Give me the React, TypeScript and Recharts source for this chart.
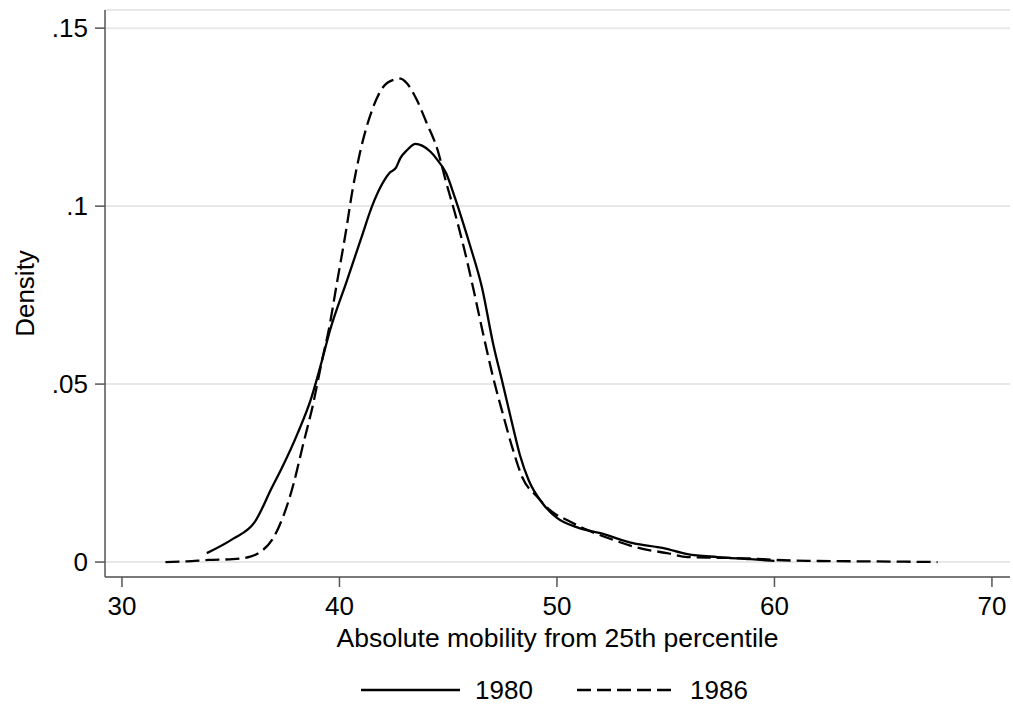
import React from 'react';
import { LineChart, Line, XAxis, YAxis, CartesianGrid, Legend } from 'recharts';

// kernel density estimates
const x1980 = [33.9, 35.1, 36.1, 36.9, 37.35, 38.1, 38.7, 39.2, 39.56, 40.34, 41.0, 41.5, 41.9, 42.3, 42.6, 42.8, 43.1, 43.5, 43.8, 44.2, 44.5, 44.9, 45.3, 45.6, 46.0, 46.55, 47.06, 47.5, 47.98, 48.3, 48.7, 49.3, 50.0, 50.9, 52.0, 53.5, 54.9, 56.0, 57.4, 58.9, 60.0];
const y1980 = [0.0025, 0.0065, 0.0112, 0.021, 0.0264, 0.0365, 0.046, 0.0567, 0.065, 0.079, 0.091, 0.1, 0.1055, 0.1093, 0.1108, 0.1135, 0.1157, 0.1175, 0.117, 0.1152, 0.113, 0.1093, 0.1025, 0.0969, 0.089, 0.0772, 0.0615, 0.0503, 0.0379, 0.03, 0.023, 0.0168, 0.0124, 0.0098, 0.0081, 0.0053, 0.0039, 0.0022, 0.0014, 0.0008, 0.0003];

const x1986 = [32.0, 33.0, 34.0, 35.1, 35.9, 36.35, 36.9, 37.4, 37.9, 38.3, 38.8, 39.2, 39.5, 39.9, 40.3, 40.6, 40.94, 41.5, 42.0, 42.5, 42.8, 43.1, 43.56, 44.0, 44.5, 44.9, 45.4, 45.86, 46.14, 46.6, 47.06, 47.5, 47.98, 48.4, 49.1, 49.8, 50.46, 51.4, 52.6, 53.8, 55.06, 56.0, 57.4, 58.9, 60.0, 62.0, 64.0, 66.0, 67.5];
const y1986 = [0.0, 0.0002, 0.0006, 0.0008, 0.0015, 0.0028, 0.0062, 0.0126, 0.0222, 0.0323, 0.0447, 0.0567, 0.065, 0.079, 0.093, 0.1045, 0.1149, 0.127, 0.1334, 0.1355, 0.1358, 0.1345, 0.1298, 0.1235, 0.116, 0.1068, 0.096, 0.0848, 0.0772, 0.0643, 0.052, 0.0419, 0.0315, 0.0239, 0.0183, 0.014, 0.0118, 0.009, 0.0062, 0.0039, 0.0025, 0.0014, 0.0012, 0.001, 0.0006, 0.0003, 0.0002, 0.0001, 0.0];

const xTicks = [30, 40, 50, 60, 70];
const yTicks = [0, 0.05, 0.1, 0.15];

const data1980 = x1980.map((x, i) => ({ x, y: y1980[i] }));
const data1986 = x1986.map((x, i) => ({ x, y: y1986[i] }));

const FONT = '"Liberation Sans", Arial, Helvetica, sans-serif';
const AXIS = '#555';

const fmtY = (v: number) => (v === 0 ? '0' : String(v).replace(/^0/, ''));

function LegendBox() {
  return (
    <svg width={1013} height={52} style={{ display: 'block' }}>
      <line x1={361} x2={460} y1={33} y2={33} stroke="#000" strokeWidth={2.4} />
      <text x={475} y={42} fontSize={26} fontFamily={FONT} fill="#000">1980</text>
      <line x1={577} x2={677} y1={33} y2={33} stroke="#000" strokeWidth={2.4} strokeDasharray="14 6" />
      <text x={690} y={42} fontSize={26} fontFamily={FONT} fill="#000">1986</text>
    </svg>
  );
}

export default function App() {
  return (
    <div style={{ position: 'absolute', left: 0, top: 0, background: '#fff', fontFamily: FONT }}>
      <LineChart width={1013} height={709} margin={{ top: 10, right: 3, left: 0, bottom: 0 }}>
        <CartesianGrid vertical={false} stroke="#e8e8e8" strokeWidth={2} />
        <XAxis
          type="number"
          dataKey="x"
          domain={[29.22, 70.83]}
          allowDataOverflow
          ticks={xTicks}
          height={80}
          tickSize={10}
          tickMargin={10}
          stroke={AXIS}
          strokeWidth={1.5}
          tick={{ fill: '#000', fontSize: 26, fontFamily: FONT }}
          label={{
            content: (props: any) => {
              const vb = props.viewBox;
              return (
                <text x={vb.x + vb.width / 2} y={657 - 10} textAnchor="middle" fontSize={26.5} fontFamily={FONT} fill="#000">
                  Absolute mobility from 25th percentile
                </text>
              );
            },
          }}
        />
        <YAxis
          type="number"
          dataKey="y"
          domain={[-0.0042, 0.1551]}
          allowDataOverflow
          ticks={yTicks}
          tickFormatter={fmtY}
          width={105}
          tickSize={10}
          tickMargin={7}
          stroke={AXIS}
          strokeWidth={1.5}
          tick={{ fill: '#000', fontSize: 26, fontFamily: FONT }}
          label={{
            content: (props: any) => {
              const vb = props.viewBox;
              const cy = vb.y + vb.height / 2;
              return (
                <text x={34} y={cy} transform={`rotate(-90, 34, ${cy})`} textAnchor="middle" fontSize={26} fontFamily={FONT} fill="#000">
                  Density
                </text>
              );
            },
          }}
        />
        <Line data={data1980} dataKey="y" type="monotone" stroke="#000" strokeWidth={2.3} dot={false} activeDot={false} isAnimationActive={false} />
        <Line data={data1986} dataKey="y" type="monotone" stroke="#000" strokeWidth={2.3} strokeDasharray="14 6" dot={false} activeDot={false} isAnimationActive={false} />
        <Legend verticalAlign="bottom" height={52} wrapperStyle={{ left: 0, bottom: 0, width: 1013 }} content={() => <LegendBox />} />
      </LineChart>
    </div>
  );
}
